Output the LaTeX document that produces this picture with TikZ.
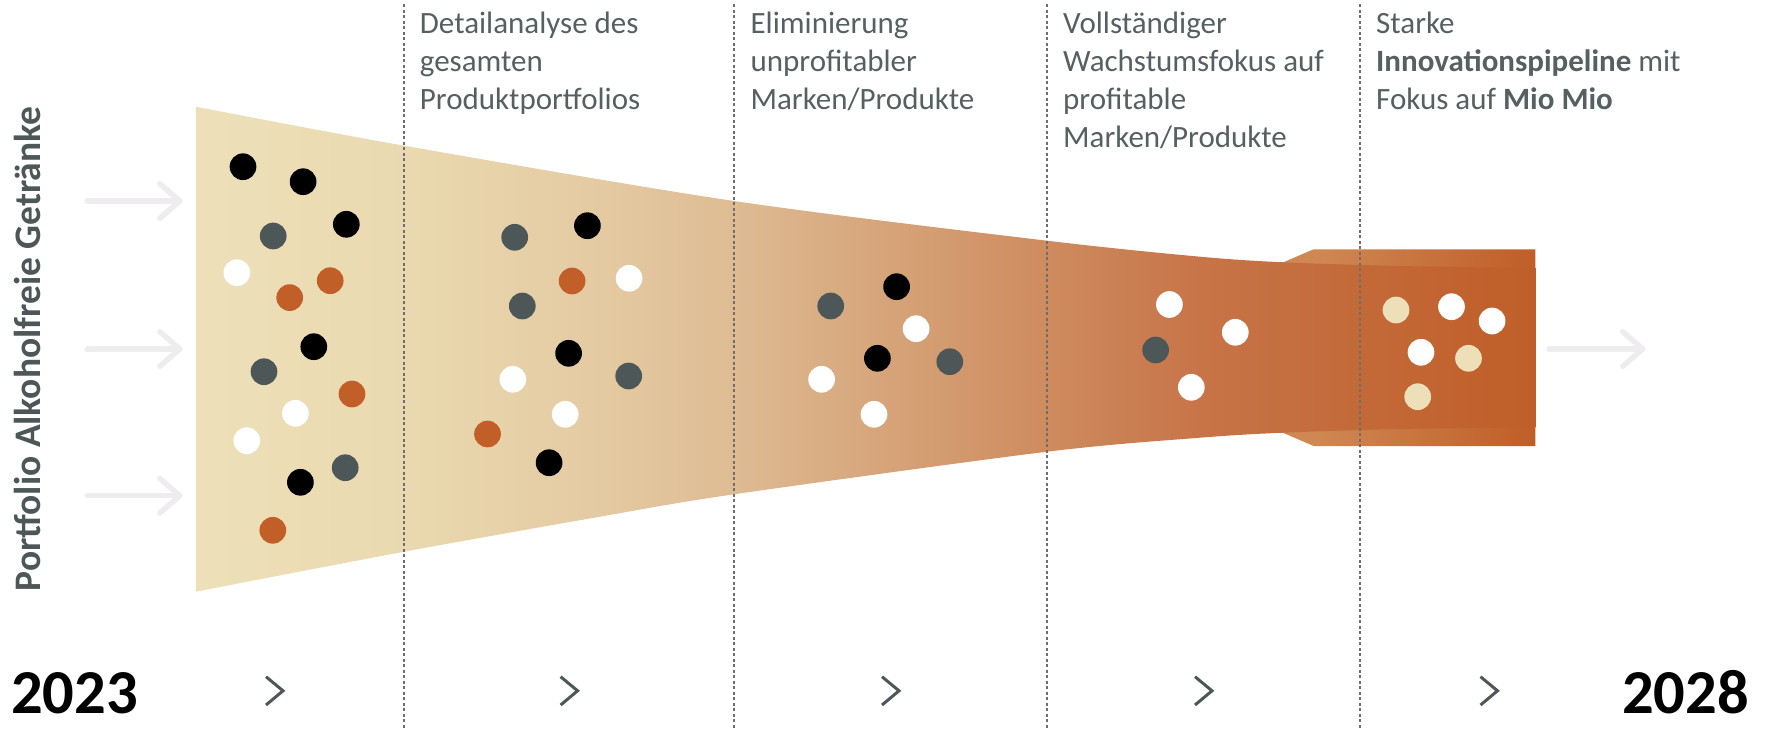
\documentclass[tikz,border=0pt]{standalone}
\usepackage{fontspec}
\setmainfont{Carlito}
\definecolor{fA}{HTML}{EDE0B9}
\definecolor{fB}{HTML}{EAD9B0}
\definecolor{fC}{HTML}{E4CAA2}
\definecolor{fD}{HTML}{DEBB93}
\definecolor{fE}{HTML}{CE8B5E}
\definecolor{fF}{HTML}{C77448}
\definecolor{fG}{HTML}{BF5E28}
\definecolor{bA}{HTML}{D08853}
\definecolor{bB}{HTML}{BF5E28}
\definecolor{dgray}{HTML}{4E5757}
\definecolor{dorange}{HTML}{C25E28}
\definecolor{dbeige}{HTML}{EDE0B8}
\definecolor{txtgray}{HTML}{566060}
\definecolor{arrgray}{HTML}{EEECEF}
\definecolor{lingray}{HTML}{6E6E6E}
\pgfdeclarehorizontalshading{funnelshade}{100bp}{color(0bp)=(fA); color(25bp)=(fA); color(32.8bp)=(fB); color(40.1bp)=(fC); color(45.1bp)=(fD); color(56.8bp)=(fE); color(62.5bp)=(fF); color(75bp)=(fG); color(100bp)=(fG)}
\pgfdeclarehorizontalshading{boxshade}{100bp}{color(0bp)=(bA); color(41.9bp)=(bA); color(75bp)=(bB); color(100bp)=(bB)}
\tikzset{
  dot/.style={circle, inner sep=0pt, minimum size=26.7pt, draw=none},
  head/.style={anchor=base west, align=left, inner sep=0pt, text=txtgray, font=\fontsize{31}{38}\selectfont},
  year/.style={anchor=base west, inner sep=0pt, font=\bfseries\fontsize{62.5}{66}\selectfont, text=black},
  sepline/.style={draw=lingray, line width=1.3pt, dash pattern=on 3pt off 2.5pt},
  inarrow/.style={draw=arrgray, line width=5.5pt, line cap=round, line join=round},
  chev/.style={draw=dgray, line width=3pt}
}
\begin{document}
\begin{tikzpicture}[x=1pt,y=-1pt]
\useasboundingbox (0,0) rectangle (1769,728);
% box at the end
\path[shading=boxshade] (1313.6,249.3) -- (1535.3,249.3) -- (1535.3,446) -- (1313.6,446) -- (1200,397) -- (1200,298) -- cycle;
% funnel
\path[shading=funnelshade] plot[smooth] coordinates {(195.9,106.7) (404.1,145.7) (733.9,201) (1047,240.7) (1200,256.7) (1283.5,262.3) (1400,266) (1535.3,268)}
  -- plot[smooth] coordinates {(1535.3,427.5) (1400,429) (1283,432.7) (1200,437.7) (1047,451.7) (733.9,494.3) (600,516.7) (404.1,551.7) (195.9,591.7)} -- cycle;
% separators
\foreach \x [count=\i] in {404.1,733.9,1047,1360} {
  \coordinate (st\i) at (\x,4);
  \coordinate (sb\i) at (\x,728);
  \draw[sepline] (st\i) -- (sb\i);
}
% dots
\foreach \x/\y/\c [count=\i] in {
 243/166.7/black, 303.1/181.7/black, 346.3/224.3/black, 273.2/236/dgray, 236.9/272.7/white, 330.2/280.7/dorange, 289.7/297.6/dorange,
 313.8/346.7/black, 264/371.7/dgray, 352/394/dorange, 295.4/413.3/white, 246.8/440.7/white, 345.2/467.7/dgray, 300.4/482.3/black, 272.8/530.3/dorange,
 514.7/237.3/dgray, 587.4/225.7/black, 572.1/281/dorange, 629.1/278.3/white, 522.3/306/dgray, 568.6/353.3/black, 628.7/376/dgray, 512.8/379.3/white, 565.2/414.3/white, 487.5/434/dorange, 549.1/462.7/black,
 896.6/286.7/black, 830.7/306/dgray, 916.1/328.7/white, 877.4/358.3/black, 949.8/361.7/dgray, 821.6/379.3/white, 874/414.3/white,
 1169.4/304.5/white, 1155.6/350/dgray, 1235.3/332.3/white, 1191.3/387.3/white,
 1396/310/dbeige, 1451.5/306.7/white, 1492.1/321/white, 1421/352.3/white, 1468.5/358.3/dbeige, 1417.7/396.7/dbeige}
{ \node[dot, fill=\c] (dot\i) at (\x,\y) {}; }
% incoming arrows
\foreach \y [count=\i] in {201,349,495.7} {
  \coordinate (as\i) at (87.2,\y);
  \coordinate (ae\i) at (179.8,\y);
  \draw[inarrow] (as\i) -- (ae\i);
  \draw[inarrow] ([shift={(-20,-17.3)}]ae\i) -- (ae\i) -- ([shift={(-20,17.3)}]ae\i);
}
\coordinate (os) at (1549,349);
\coordinate (oe) at (1642.7,349);
\draw[inarrow] (os) -- (oe);
\draw[inarrow] ([shift={(-20,-17.3)}]oe) -- (oe) -- ([shift={(-20,17.3)}]oe);
% chevrons
\foreach \x [count=\i] in {266,560.6,882,1195,1480.5} {
  \coordinate (ct\i) at (\x,676.7);
  \coordinate (cm\i) at (\x+17,690.8);
  \coordinate (cb\i) at (\x,705);
  \draw[chev] (ct\i) -- (cm\i) -- (cb\i);
}
% texts (anchor = baseline of the last line)
\node[head] (h1) at (419.7,109.3) {Detailanalyse des\\gesamten\\Produktportfolios};
\node[head] (h2) at (750.4,109.3) {Eliminierung\\unprofitabler\\Marken/Produkte};
\node[head] (h3) at (1063,147.3) {Vollständiger\\Wachstumsfokus auf\\profitable\\Marken/Produkte};
\node[head] (h4) at (1376,109.3) {Starke\\\textbf{Innovationspipeline} mit\\Fokus auf \textbf{Mio Mio}};
\node[rotate=90, anchor=base, inner sep=0pt, text=dgray, font=\bfseries\fontsize{37.5}{40}\selectfont] (vt) at (40.2,349) {Portfolio Alkoholfreie Getränke};
\node[year] (y1) at (11,713.3) {2023};
\node[year] (y2) at (1622,713.3) {2028};
\end{tikzpicture}
\end{document}
